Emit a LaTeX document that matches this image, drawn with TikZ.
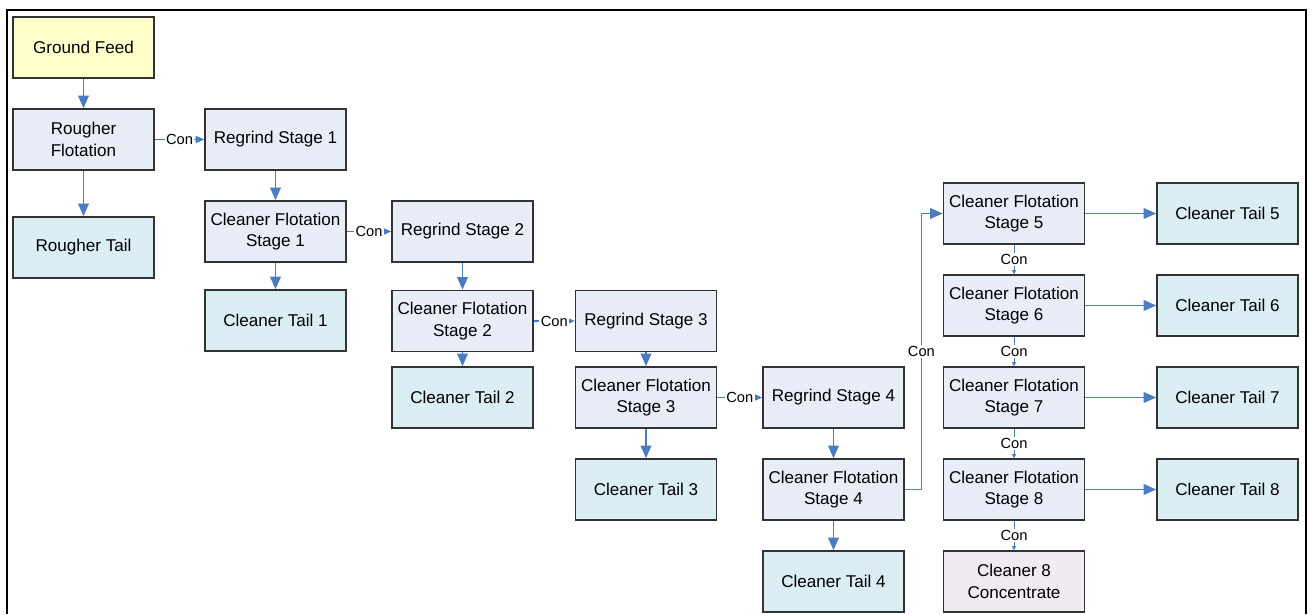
\documentclass[tikz,border=0pt]{standalone}
\usepackage{fontspec}
\setmainfont{Liberation Sans}
\usetikzlibrary{arrows.meta}
\definecolor{procfill}{HTML}{E9EDF7}
\definecolor{tailfill}{HTML}{DBEEF3}
\definecolor{feedfill}{HTML}{FFFFCC}
\definecolor{concfill}{HTML}{EFEBF1}
\definecolor{flowblue}{HTML}{4A7CC4}
\definecolor{boxline}{HTML}{333333}
\begin{document}
\begin{tikzpicture}[x=0.75pt,y=-0.75pt,
    box/.style={draw=boxline,line width=1.2pt,minimum width=105.75pt,minimum height=45.75pt,
      align=center,inner sep=2pt,font=\fontsize{12.8}{16}\selectfont},
    proc/.style={box,fill=procfill},
    tail/.style={box,fill=tailfill},
    flow/.style={draw=flowblue,line width=1.3pt,-{Triangle[length=9.5pt,width=8pt]}},
    conflow/.style={draw=flowblue,line width=0.9pt,-{Triangle[length=6.5pt,width=5.5pt]}},
    stageflow/.style={draw=flowblue,line width=0.6pt,-{Triangle[length=3pt,width=3pt]}},
    con/.style={fill=white,inner sep=1pt,font=\fontsize{11}{13}\selectfont}]
    \useasboundingbox (0,0) rectangle (1313,614);
    \draw[line width=1.5pt] (7,614) -- (7,10) -- (1306,10) -- (1306,614);

    % rougher
    \node[box,fill=feedfill] (feed) at (83.5,47.5) {Ground Feed};
    \node[proc] (rougher) at (83.5,139.5) {Rougher\\Flotation};
    \node[tail] (rtail) at (83.5,247.5) {Rougher Tail};

    % cleaners 1-4
    \node[proc] (regrind1) at (275.5,139.5) {Regrind Stage 1};
    \node[proc] (clean1) at (275.5,231.5) {Cleaner Flotation\\Stage 1};
    \node[tail] (ctail1) at (275.5,320.5) {Cleaner Tail 1};
    \node[proc] (regrind2) at (462.5,231.5) {Regrind Stage 2};
    \node[proc] (clean2) at (462.5,321) {Cleaner Flotation\\Stage 2};
    \node[tail] (ctail2) at (462.5,397.5) {Cleaner Tail 2};
    \node[proc] (regrind3) at (646,321) {Regrind Stage 3};
    \node[proc] (clean3) at (646,397.5) {Cleaner Flotation\\Stage 3};
    \node[tail] (ctail3) at (646,489.5) {Cleaner Tail 3};
    \node[proc] (regrind4) at (833.5,397.5) {Regrind Stage 4};
    \node[proc] (clean4) at (833.5,489.5) {Cleaner Flotation\\Stage 4};
    \node[tail] (ctail4) at (833.5,581.5) {Cleaner Tail 4};

    % cleaners 5-8
    \node[proc] (clean5) at (1014,213.5) {Cleaner Flotation\\Stage 5};
    \node[proc] (clean6) at (1014,305.5) {Cleaner Flotation\\Stage 6};
    \node[proc] (clean7) at (1014,397.5) {Cleaner Flotation\\Stage 7};
    \node[proc] (clean8) at (1014,489.5) {Cleaner Flotation\\Stage 8};
    \node[box,fill=concfill] (conc) at (1014,581.5) {Cleaner 8\\Concentrate};
    \node[tail] (ctail5) at (1227.5,213.5) {Cleaner Tail 5};
    \node[tail] (ctail6) at (1227.5,305.5) {Cleaner Tail 6};
    \node[tail] (ctail7) at (1227.5,397.5) {Cleaner Tail 7};
    \node[tail] (ctail8) at (1227.5,489.5) {Cleaner Tail 8};

    \draw[flow] (feed) -- (rougher);
    \draw[flow] (rougher) -- (rtail);
    \draw[conflow] (rougher) -- node[con] {Con} (regrind1);
    \draw[flow] (regrind1) -- (clean1);
    \draw[flow] (clean1) -- (ctail1);
    \draw[conflow] (clean1) -- node[con] {Con} (regrind2);
    \draw[flow] (regrind2) -- (clean2);
    \draw[flow] (clean2) -- (ctail2);
    \draw[conflow] (clean2) -- node[con] {Con} (regrind3);
    \draw[flow] (regrind3) -- (clean3);
    \draw[flow] (clean3) -- (ctail3);
    \draw[conflow] (clean3) -- node[con] {Con} (regrind4);
    \draw[flow] (regrind4) -- (clean4);
    \draw[flow] (clean4) -- (ctail4);
    \draw[flow] (clean4.east) -| ([xshift=-16]clean5.west) node[pos=0.75,con] {Con} -- (clean5.west);

    \draw[stageflow] (clean5) -- node[con] {Con} (clean6);
    \draw[stageflow] (clean6) -- node[con] {Con} (clean7);
    \draw[stageflow] (clean7) -- node[con] {Con} (clean8);
    \draw[stageflow] (clean8) -- node[con] {Con} (conc);
    \draw[flow] (clean5) -- (ctail5);
    \draw[flow] (clean6) -- (ctail6);
    \draw[flow] (clean7) -- (ctail7);
    \draw[flow] (clean8) -- (ctail8);
\end{tikzpicture}
\end{document}
